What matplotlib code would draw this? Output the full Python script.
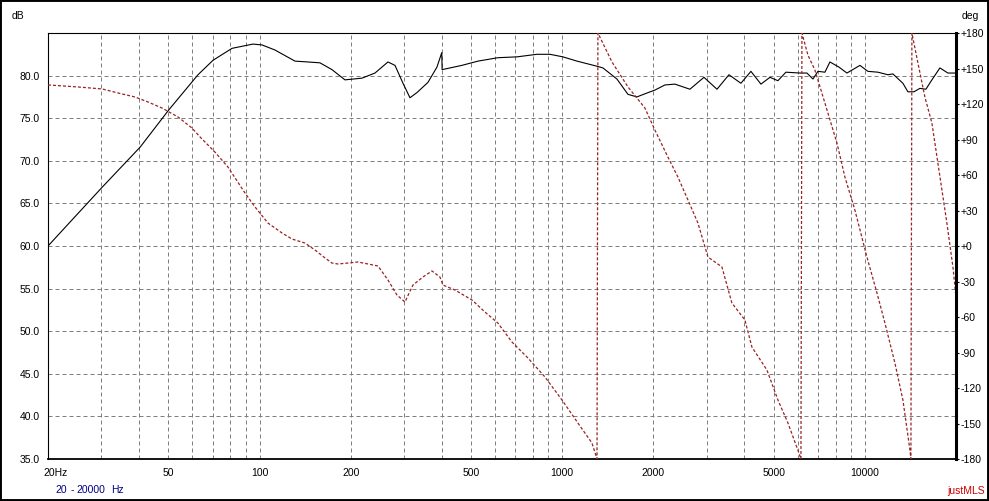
import matplotlib
matplotlib.use('Agg')
import matplotlib.pyplot as plt
import matplotlib.transforms as mtransforms
from matplotlib.patches import Rectangle
from matplotlib.ticker import NullFormatter

plt.rcParams['font.family'] = ['Liberation Sans', 'DejaVu Sans']

# amplitude response (Hz / dB)
spl_freq = [20, 30.2, 40.3, 50.2, 62.6, 70.2, 81.1, 95.1, 101.9, 112.5,
            130.9, 144.5, 158.3, 173.5, 191.5, 218, 240.6, 265.6, 280.2, 297.8,
            314, 331, 360, 385.6, 400, 401, 466, 527, 613, 709,
            825, 911, 1005, 1119, 1303, 1363, 1516, 1649, 1765, 1920,
            2024, 2184, 2357, 2642, 2940, 3246, 3555, 3894, 4202, 4535,
            4857, 5160, 5484, 6100, 6434, 6736, 6996, 7378, 7664, 8208,
            8722, 9631, 10234, 11042, 11914, 12374, 13354, 13870, 14518, 15196,
            15906, 16650, 17696, 18806, 20000]
spl_db = [60.0, 66.9, 71.6, 76.0, 80.1, 81.8, 83.2, 83.7, 83.6, 83.0,
          81.7, 81.6, 81.5, 80.7, 79.5, 79.7, 80.3, 81.6, 81.2, 79.1,
          77.4, 78.0, 79.2, 81.0, 82.7, 80.7, 81.2, 81.7, 82.1, 82.2,
          82.5, 82.5, 82.2, 81.7, 81.1, 80.9, 79.6, 77.8, 77.5, 78.0,
          78.3, 78.9, 79.0, 78.4, 79.8, 78.4, 80.1, 79.1, 80.5, 79.0,
          79.8, 79.4, 80.4, 80.3, 80.3, 79.6, 80.5, 80.4, 81.6, 81.0,
          80.3, 81.2, 80.5, 80.4, 80.1, 80.2, 79.1, 78.1, 78.1, 78.5,
          78.4, 79.5, 80.9, 80.3, 80.3]

# phase response (Hz / deg), wrapped at +-180 like the original
phase_freq = [20, 25.1, 30.2, 34.1, 38.8, 42.8, 47.6, 53.8, 59.8, 63.6,
              71.2, 78.6, 89.5, 96.6, 106.6, 118.6, 128.0, 141.3, 152.5, 164.5,
              173.5, 181.6, 195.9, 211.4, 246.2, 265.6, 284.4, 302.2, 321.2, 346.6,
              371.2, 394.4, 403.6, 442.2, 503.2, 555.6, 613, 682, 770, 877,
              998, 1127, 1254, 1303, 1312, 1460, 1649, 1876, 2024, 2234,
              2411, 2602, 2808, 3030, 3370, 3636, 4014, 4234, 4746, 5160,
              5570, 6054, 6148, 6194, 6482, 6836, 7378, 8086, 8590, 9268,
              10156, 10962, 11648, 12566, 13354, 14086, 14192, 14300, 14972, 15786,
              16650, 17426, 18660, 19536, 20000]
phase_deg = [136.1, 134.4, 132.7, 129.3, 125.9, 121.7, 116.6, 109.0, 99.7, 92.1,
             79.4, 66.8, 44.8, 33.0, 19.4, 11.0, 5.9, 2.5, -3.4, -10.1,
             -14.4, -15.2, -14.4, -13.5, -16.9, -28.7, -41.4, -47.3, -33.0, -26.2,
             -21.1, -26.2, -33.0, -37.2, -45.6, -55.8, -65.1, -81.1, -94.6, -110.7,
             -130.1, -149.6, -166.5, -180, 180, 155.5, 134.4, 116.6, 98.0, 75.2,
             58.3, 38.9, 19.4, -9.3, -17.7, -48.2, -62.5, -85.4, -104.8, -130.1,
             -149.6, -174.9, -180, 180, 161.4, 148.7, 120.8, 87.0, 58.3, 30.4,
             -9.3, -39.7, -65.1, -98.9, -130.1, -172.4, -180, 180, 154.6, 125.9,
             103.9, 70.1, 19.4, -17.7, -43.1]

x_major = [20, 50, 100, 200, 500, 1000, 2000, 5000, 10000]
x_labels = ['20Hz', '50', '100', '200', '500', '1000', '2000', '5000', '10000']
x_minor = [30, 40, 60, 70, 80, 90, 300, 400, 600, 700, 800, 900,
           3000, 4000, 6000, 7000, 8000, 9000]
db_ticks = [35, 40, 45, 50, 55, 60, 65, 70, 75, 80]
db_labels = ['%.1f' % v for v in db_ticks]
deg_ticks = list(range(-180, 181, 30))
deg_labels = [('+%d' % d) if d >= 0 else ('%d' % d) for d in deg_ticks]

W, H = 989, 501
fig = plt.figure(figsize=(W / 100, H / 100), dpi=100)
fig.patch.set_facecolor('white')

ax = fig.add_axes([48 / W, 42 / H, 908 / W, 426 / H])
ax.set_xscale('log')
ax.set_xlim(20, 20000)
ax.set_ylim(35, 85)
ax.set_xticks(x_major, labels=x_labels)
ax.set_xticks(x_minor, minor=True)
ax.xaxis.set_minor_formatter(NullFormatter())
ax.set_yticks(db_ticks, labels=db_labels)
ax.tick_params(axis='both', which='both', length=0, labelsize=7.5)
ax.tick_params(axis='x', pad=6.2)
ax.tick_params(axis='y', pad=6.0)

# "20Hz" starts at the left edge rather than being centred
lab0 = ax.get_xticklabels()[0]
lab0.set_horizontalalignment('left')
lab0.set_transform(lab0.get_transform() +
                   mtransforms.ScaledTranslation(-5 / 100, 0, fig.dpi_scale_trans))

grid_style = dict(color='#808080', linewidth=0.72, linestyle=(0, (4, 3)))
ax.grid(True, axis='x', which='both', **grid_style)
ax.grid(True, axis='y', which='major', **grid_style)

for side in ['left', 'top']:
    ax.spines[side].set_linewidth(0.8)
ax.spines['bottom'].set_linewidth(1.3)
ax.spines['right'].set_visible(False)

ax.plot(spl_freq, spl_db, color='black', linewidth=0.8)

ax2 = ax.twinx()
ax2.set_ylim(-180, 180)
ax2.set_yticks(deg_ticks, labels=deg_labels)
ax2.tick_params(axis='y', direction='out', length=2.5, width=0.8, pad=0.8, labelsize=7.5)
for side in ['left', 'top', 'bottom']:
    ax2.spines[side].set_visible(False)
ax2.spines['right'].set_linewidth(2.2)
ax2.plot(phase_freq, phase_deg, color='#992222', linewidth=0.9,
         linestyle=(0, (2.4, 1.6)))

def px(x, y):
    return x / W, 1 - y / H

fig.text(*px(12, 16), 'dB', fontsize=7.5, va='center', ha='left')
fig.text(*px(962, 16), 'deg', fontsize=7.5, va='center', ha='left')
fig.text(*px(55, 490), '20', fontsize=7.5, va='center', ha='left', color='#000080')
fig.text(*px(71, 490), '-', fontsize=7.5, va='center', ha='left', color='#000080')
fig.text(*px(76, 490), '20000', fontsize=7.5, va='center', ha='left', color='#000080')
fig.text(*px(111, 490), 'Hz', fontsize=7.5, va='center', ha='left', color='#000080')
fig.text(*px(985, 491), 'justMLS', fontsize=7.5, va='center', ha='right', color='#cc0000')

fig.add_artist(Rectangle((0, 0), 1, 1, transform=fig.transFigure, fill=False,
                         edgecolor='black', linewidth=2.8))

fig.savefig('out.png', dpi=100)
